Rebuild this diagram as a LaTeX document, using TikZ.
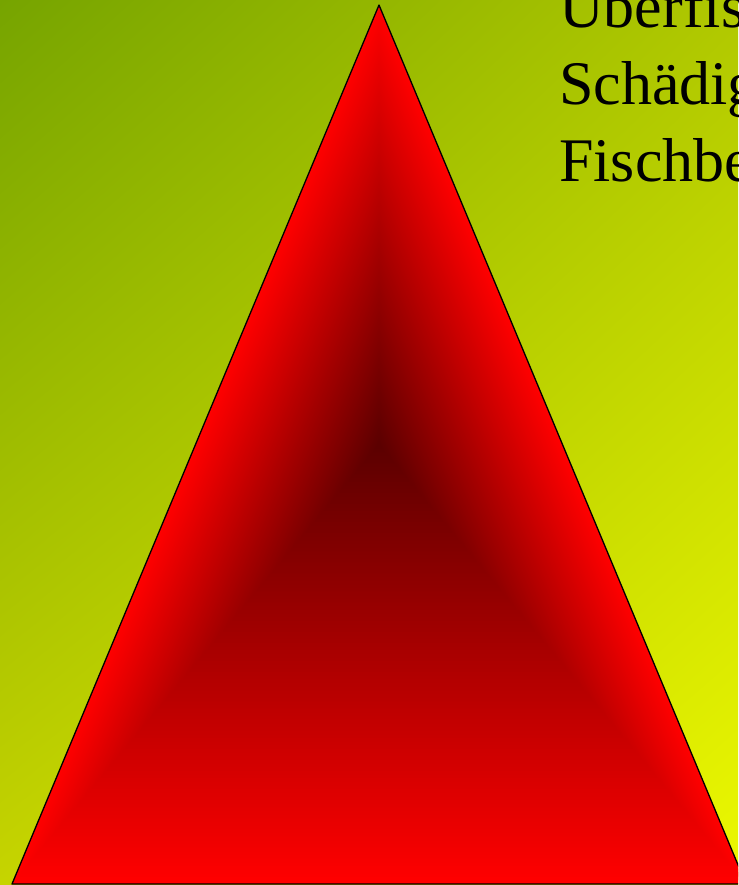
\documentclass[tikz,border=0pt]{standalone}
\usepackage{fontspec}
\setmainfont{Liberation Serif}
\usetikzlibrary{calc,shadings}
\definecolor{leafgreen}{HTML}{76A400}
\definecolor{limetop}{HTML}{B0C800}
\definecolor{limeleft}{HTML}{C6D400}
\definecolor{lemon}{HTML}{ECF800}
\definecolor{coredark}{HTML}{5C0000}
\tikzset{wordline/.style={anchor=base west,inner sep=0pt,font=\fontsize{62}{77}\selectfont}}

\begin{document}
\begin{tikzpicture}[x=1pt,y=-1pt,line join=round]
\useasboundingbox (0,0) rectangle (738,885);
\begin{scope}
\clip (0,0) rectangle (738,885);
% --- background: green top left, yellow bottom right
\shade[upper left=leafgreen,upper right=limetop,lower left=limeleft,lower right=lemon] (0,0) rectangle (738,885);
% --- triangle, red rim darkening towards the core
\coordinate (apex) at (379,5); \coordinate (baseL) at (12,884); \coordinate (baseR) at (746,884);
\coordinate (core) at (379,445);
\foreach \k in {0,...,119}{
  \pgfmathsetmacro{\s}{1-\k/120}\pgfmathsetmacro{\p}{100-100*\k/119}
  \fill[red!\p!coredark] ($(core)!\s!(apex)$) -- ($(core)!\s!(baseL)$) -- ($(core)!\s!(baseR)$) -- cycle;
}
\draw[line width=1.3pt] (apex) -- (baseL) -- (baseR) -- cycle;
% --- words, cut off at the right edge
\node[wordline] (ueber) at (559,28) {Überfis};
\node[wordline] (schaed) at (559,105) {Schädig};
\node[wordline] (fisch) at (559,182) {Fischbe};
\end{scope}
\end{tikzpicture}
\end{document}
